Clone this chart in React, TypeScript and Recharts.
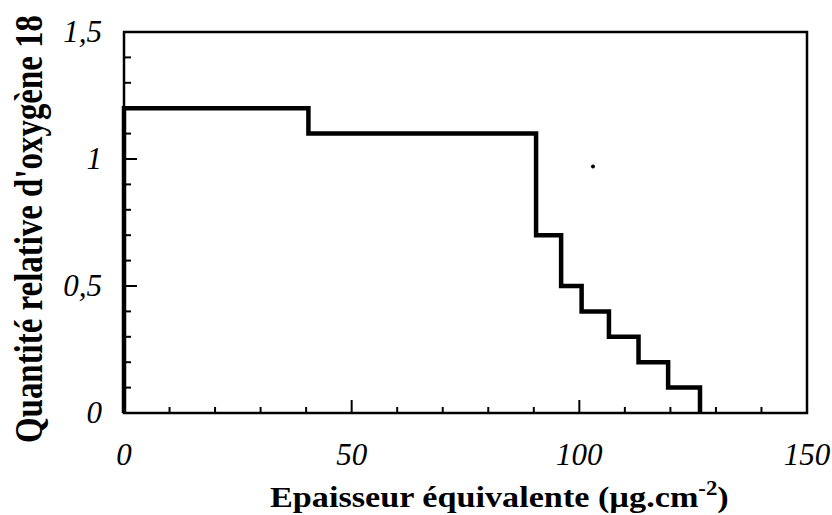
import React from 'react';
import { LineChart, Line, XAxis, YAxis, ReferenceArea, ReferenceDot, Label } from 'recharts';

// Step edges (x, µg.cm-2) and the level held between consecutive edges
const stepEdges = [0, 40.5, 90.5, 96, 100.5, 106.5, 113, 119.5, 126.5];
const stepLevels = [1.2, 1.1, 0.7, 0.5, 0.4, 0.3, 0.2, 0.1];

const xTicks = [0, 10, 20, 30, 40, 50, 60, 70, 80, 90, 100, 110, 120, 130, 140, 150];
const xTickLabels: Record<string, string> = { '0': '0', '50': '50', '100': '100', '150': '150' };
const yTicks = [0, 0.1, 0.2, 0.3, 0.4, 0.5, 0.6, 0.7, 0.8, 0.9, 1, 1.1, 1.2, 1.3, 1.4, 1.5];
const yTickLabels: Record<string, string> = { '0.0': '0', '0.5': '0,5', '1.0': '1', '1.5': '1,5' };
const strayDot = { x: 103, y: 0.97 };

const data: { x: number; y: number }[] = [];
data.push({ x: stepEdges[0], y: 0 });
stepLevels.forEach((lv, i) => {
  data.push({ x: stepEdges[i], y: lv });
  data.push({ x: stepEdges[i + 1], y: lv });
});
data.push({ x: stepEdges[stepEdges.length - 1], y: 0 });

const FONT = '"Liberation Serif", "Times New Roman", serif';

const XTick = (props: any) => {
  const { x, y, payload } = props;
  const key = String(payload.value);
  const label = xTickLabels[key];
  const major = label !== undefined;
  return (
    <g>
      <line x1={x} x2={x} y1={y} y2={y - (major ? 13 : 6)} stroke="#000" strokeWidth={2} />
      {major && (
        <text x={x} y={y + 52} textAnchor="middle" fontFamily={FONT} fontStyle="italic" fontSize={31} fill="#000">
          {label}
        </text>
      )}
    </g>
  );
};

const YTick = (props: any) => {
  const { x, y, payload } = props;
  const key = Number(payload.value).toFixed(1);
  const label = yTickLabels[key];
  const major = label !== undefined;
  return (
    <g>
      <line x1={x} x2={x + (major ? 13 : 7)} y1={y} y2={y} stroke="#000" strokeWidth={2} />
      {major && (
        <text x={x - 22} y={y + 10} textAnchor="end" fontFamily={FONT} fontStyle="italic" fontSize={31} fill="#000">
          {label}
        </text>
      )}
    </g>
  );
};

const XTitle = (props: any) => {
  const vb = props.viewBox;
  return (
    <text
      transform={`translate(${vb.x + 146},507) scale(1.14,1)`}
      x={0}
      y={0}
      fontFamily={FONT}
      fontWeight="bold"
      fontSize={30}
      fill="#000"
    >
      <tspan>Epaisseur équivalente (µg.cm</tspan>
      <tspan fontSize={20} dy={-12}>-2</tspan>
      <tspan dy={12}>)</tspan>
    </text>
  );
};

const YTitle = () => {
  return (
    <text
      transform="translate(42,229) rotate(-90) scale(1,1.25)"
      x={0}
      y={0}
      textAnchor="middle"
      fontFamily={FONT}
      fontWeight="bold"
      fontSize={32}
      fill="#000"
      textLength={428}
      lengthAdjust="spacingAndGlyphs"
    >
      Quantité relative d'oxygène 18
    </text>
  );
};

export default function App() {
  return (
    <div style={{ position: 'absolute', left: 0, top: 0, width: 832, height: 515, background: '#fff' }}>
      <LineChart width={832} height={515} data={data} margin={{ top: 32, right: 25, bottom: 0, left: 0 }}>
        <XAxis
          dataKey="x"
          type="number"
          domain={[0, 150]}
          ticks={xTicks}
          interval={0}
          height={102}
          axisLine={false}
          tickLine={false}
          tickSize={0}
          tickMargin={0}
          tick={<XTick />}
        >
          <Label content={<XTitle />} />
        </XAxis>
        <YAxis
          type="number"
          domain={[0, 1.5]}
          ticks={yTicks}
          interval={0}
          width={124}
          axisLine={false}
          tickLine={false}
          tickSize={0}
          tickMargin={0}
          tick={<YTick />}
        >
          <Label content={<YTitle />} />
        </YAxis>
        <ReferenceArea x1={0} x2={150} y1={0} y2={1.5} fill="none" stroke="#000" strokeWidth={2.5} ifOverflow="visible" />
        <ReferenceDot x={strayDot.x} y={strayDot.y} r={2} fill="#000" stroke="none" />
        <Line
          dataKey="y"
          type="linear"
          stroke="#000"
          strokeWidth={4.5}
          strokeLinejoin="miter"
          strokeLinecap="butt"
          dot={false}
          isAnimationActive={false}
        />
      </LineChart>
    </div>
  );
}
